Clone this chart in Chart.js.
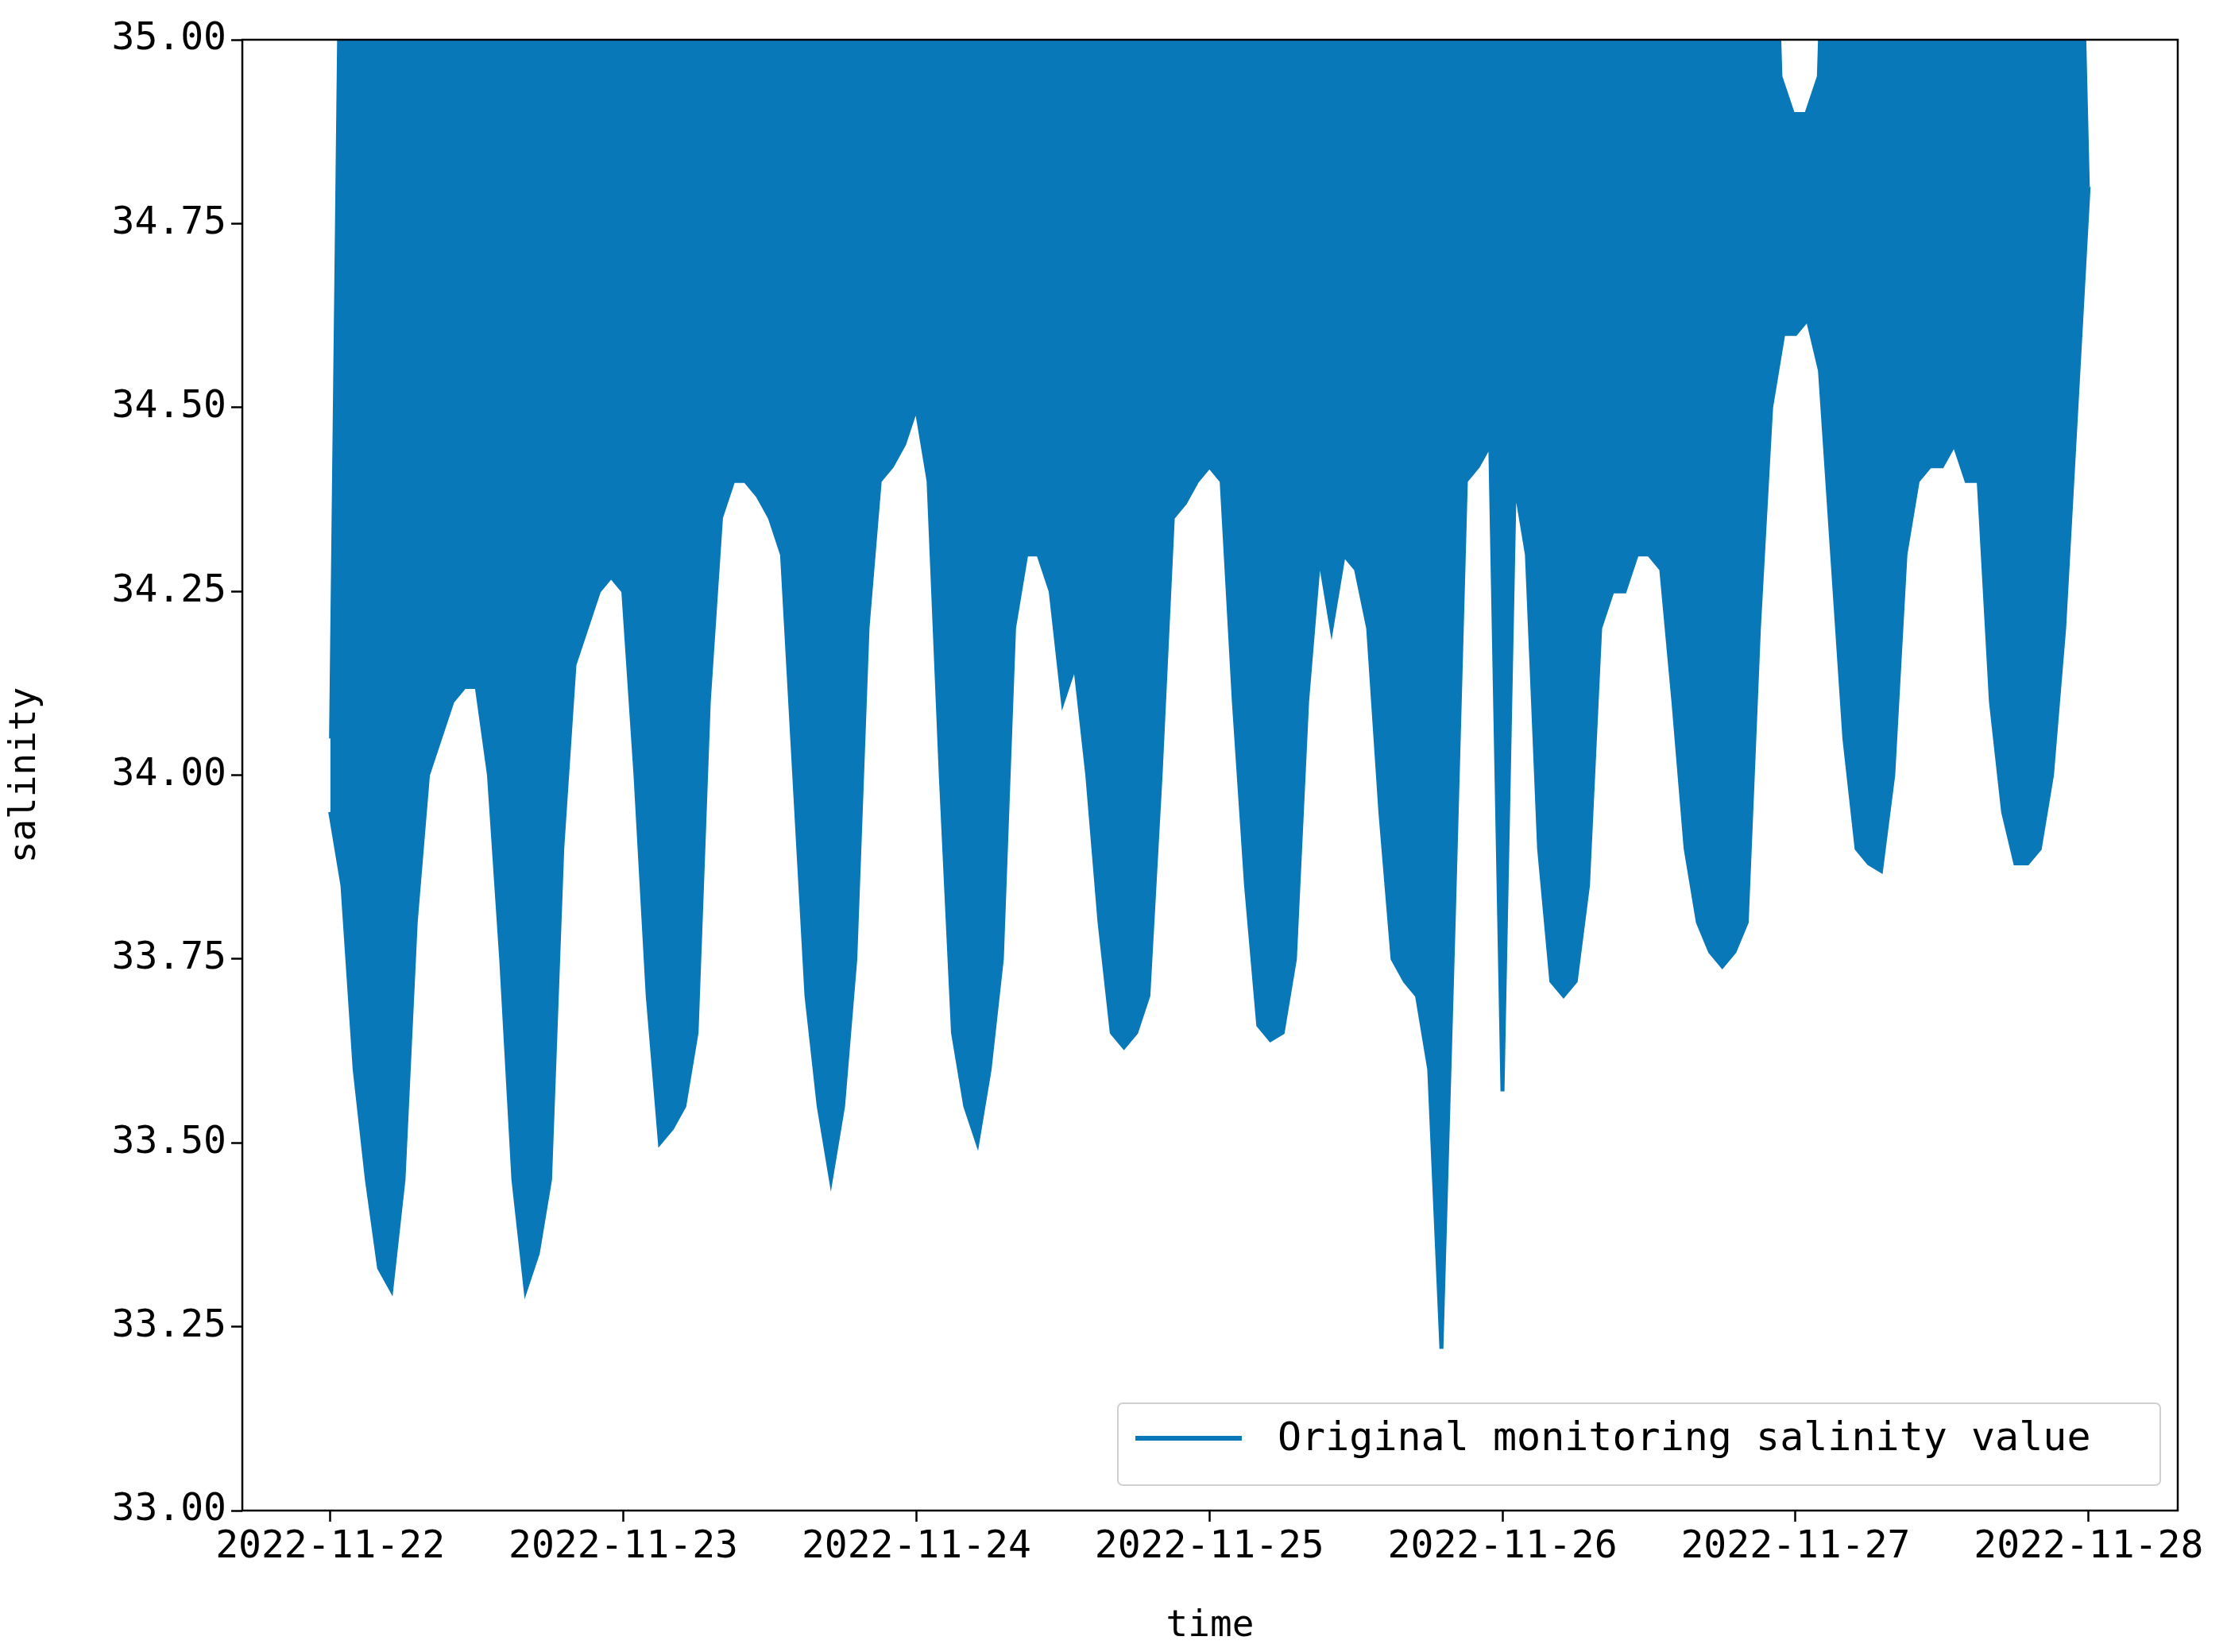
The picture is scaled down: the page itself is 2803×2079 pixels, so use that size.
<!DOCTYPE html>
<html><head><meta charset="utf-8">
<script src="https://cdn.jsdelivr.net/npm/chart.js@4/dist/chart.umd.min.js"></script>
<style>html,body{margin:0;padding:0;background:#fff}#c{display:block}</style>
</head><body>
<canvas id="c" width="2803" height="2079"></canvas>
<script>
const dateLabels = ["2022-11-22","2022-11-23","2022-11-24","2022-11-25","2022-11-26","2022-11-27","2022-11-28"];
const yTicks = [33.00,33.25,33.50,33.75,34.00,34.25,34.50,34.75,35.00];
const seriesName = "Original monitoring salinity value";
// lower envelope of salinity, evenly spaced from 2022-11-22 00:00 to 2022-11-28 00:00
const lowerValues = [33.95,33.85,33.6,33.45,33.33,33.3,33.45,33.8,34.0,34.05,34.1,34.12,34.12,34.0,33.75,33.45,33.3,33.35,33.45,33.9,34.15,34.2,34.25,34.27,34.25,34.0,33.7,33.5,33.52,33.55,33.65,34.1,34.35,34.4,34.4,34.38,34.35,34.3,34.0,33.7,33.55,33.45,33.55,33.75,34.2,34.4,34.42,34.45,34.5,34.4,34.0,33.65,33.55,33.5,33.6,33.75,34.2,34.3,34.3,34.25,34.1,34.15,34.0,33.8,33.65,33.63,33.65,33.7,34.0,34.35,34.37,34.4,34.42,34.4,34.1,33.85,33.66,33.64,33.65,33.75,34.1,34.3,34.2,34.3,34.28,34.2,33.95,33.75,33.72,33.7,33.6,33.22,33.8,34.4,34.42,34.45,33.57,34.4,34.3,33.9,33.72,33.7,33.72,33.85,34.2,34.25,34.25,34.3,34.3,34.28,34.1,33.9,33.8,33.76,33.74,33.76,33.8,34.2,34.5,34.6,34.6,34.62,34.55,34.3,34.05,33.9,33.88,33.87,34.0,34.3,34.4,34.42,34.42,34.45,34.4,34.4,34.1,33.95,33.88,33.88,33.9,34.0,34.2,34.5,34.8];
// upper envelope over the same span (values above 35 are clipped by the axis)
const upperValues = [34.05,35.5,35.5,35.5,35.5,35.5,35.5,35.5,35.5,35.5,35.5,35.5,35.5,35.5,35.5,35.5,35.5,35.5,35.5,35.5,35.5,35.5,35.5,35.5,35.5,35.5,35.5,35.5,35.5,35.5,35.5,35.5,35.5,35.5,35.5,35.5,35.5,35.5,35.5,35.5,35.5,35.5,35.5,35.5,35.5,35.5,35.5,35.5,35.5,35.5,35.5,35.5,35.5,35.5,35.5,35.5,35.5,35.5,35.5,35.5,35.5,35.5,35.5,35.5,35.5,35.5,35.5,35.5,35.5,35.5,35.5,35.5,35.5,35.5,35.5,35.5,35.5,35.5,35.5,35.5,35.5,35.5,35.5,35.5,35.5,35.5,35.5,35.5,35.5,35.5,35.5,35.5,35.5,35.5,35.5,35.5,35.5,35.5,35.5,35.5,35.5,35.5,35.5,35.5,35.5,35.5,35.5,35.5,35.5,35.5,35.5,35.5,35.5,35.5,35.5,35.5,35.5,35.5,34.95,34.9,34.9,34.95,35.5,35.5,35.5,35.5,35.5,35.5,35.5,35.5,35.5,35.5,35.5,35.5,35.5,35.5,35.5,35.5,35.5,35.5,35.5,35.5,35.5,34.8];

const COLOR = '#0878b8';
const FONT = "'DejaVu Sans Mono', monospace";
const SPAN = 144; // hours
const toPts = arr => arr.map((v,i)=>({x:i*SPAN/(arr.length-1),y:v}));

const legendPlugin = {
  id:'legendInside',
  afterDraw(chart){
    const ctx = chart.ctx;
    ctx.save();
    const x0=1407,y0=1766,w=1312,h=103;
    ctx.fillStyle='rgba(255,255,255,0.8)';
    ctx.strokeStyle='#d0d0d0'; ctx.lineWidth=2;
    ctx.beginPath(); ctx.roundRect(x0,y0,w,h,6); ctx.fill(); ctx.stroke();
    ctx.strokeStyle=COLOR; ctx.lineWidth=6;
    ctx.beginPath(); ctx.moveTo(1429,1810); ctx.lineTo(1563,1810); ctx.stroke();
    ctx.fillStyle='#000'; ctx.font='50px '+FONT; ctx.textBaseline='middle';
    ctx.fillText(chart.data.datasets[0].label,1608,1812);
    ctx.restore();
  }
};
const framePlugin = {
  id:'frame',
  afterDraw(chart){
    const a=chart.chartArea, ctx=chart.ctx;
    ctx.save(); ctx.strokeStyle='#000'; ctx.lineWidth=2.5;
    ctx.strokeRect(a.left,a.top,a.right-a.left,a.bottom-a.top); ctx.restore();
  }
};

new Chart(document.getElementById('c'),{
  type:'line',
  data:{datasets:[
    {label:seriesName,data:toPts(lowerValues),borderColor:COLOR,backgroundColor:COLOR,borderWidth:5,pointRadius:0,fill:'+1',tension:0},
    {label:'upper',data:toPts(upperValues),borderColor:COLOR,backgroundColor:COLOR,borderWidth:3,pointRadius:0,fill:false,tension:0}
  ]},
  plugins:[legendPlugin,framePlugin],
  options:{
    responsive:false,animation:false,
    layout:{padding:{top:50,right:62,left:0,bottom:0}},
    plugins:{legend:{display:false},tooltip:{enabled:false}},
    scales:{
      x:{type:'linear',min:-7.2,max:151.3,
        grid:{display:true,drawOnChartArea:false,tickLength:14,tickColor:'#000',tickWidth:2.5},border:{display:false},
        afterBuildTicks(ax){ax.ticks=dateLabels.map((d,i)=>({value:i*24}));},
        afterFit(ax){ax.height=178;},
        ticks:{color:'#000',font:{size:48,family:FONT},maxRotation:0,autoSkip:false,padding:4,
          callback:(v)=>dateLabels[Math.round(v/24)]},
        title:{display:true,text:'time',color:'#000',font:{size:46,family:FONT},padding:{top:0}}
      },
      y:{min:33,max:35,
        grid:{display:true,drawOnChartArea:false,tickLength:14,tickColor:'#000',tickWidth:2.5},border:{display:false},
        afterBuildTicks(ax){ax.ticks=yTicks.map(v=>({value:v}));},
        afterFit(ax){ax.width=305;},
        ticks:{color:'#000',font:{size:48,family:FONT},padding:6,callback:(v)=>v.toFixed(2)},
        title:{display:true,text:'salinity',color:'#000',font:{size:46,family:FONT},padding:{bottom:0}}
      }
    }
  }
});
</script>
</body></html>
